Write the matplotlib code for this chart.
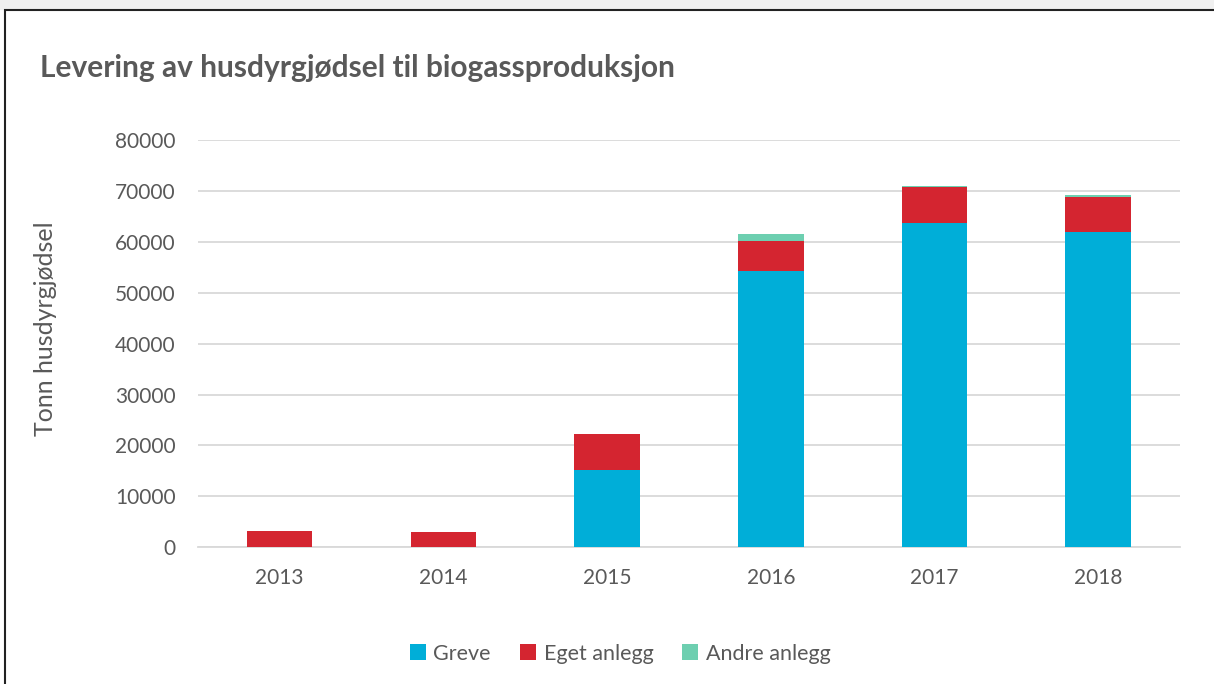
import matplotlib
matplotlib.use("Agg")
import matplotlib.pyplot as plt
import numpy as np
from matplotlib.patches import Rectangle

years = ["2013", "2014", "2015", "2016", "2017", "2018"]
greve = [0, 0, 15100, 54300, 63650, 61950]
eget = [3280, 3030, 7200, 5850, 7080, 6950]
andre = [0, 0, 0, 1500, 250, 300]
yticks = [0, 10000, 20000, 30000, 40000, 50000, 60000, 70000, 80000]

plt.rcParams['font.family'] = ['Lato', 'DejaVu Sans']
txt = "#595959"

fig = plt.figure(figsize=(12.14, 6.84), dpi=100)
ax = fig.add_axes([0.163, 0.2, 0.809, 0.595])

x = np.arange(len(years))
w = 0.4
ax.bar(x, greve, w, color="#00AED8", label="Greve", zorder=3)
ax.bar(x, eget, w, bottom=greve, color="#D42530", label="Eget anlegg", zorder=3)
bot2 = [g + e for g, e in zip(greve, eget)]
ax.bar(x, andre, w, bottom=bot2, color="#6DCFB0", label="Andre anlegg", zorder=3)

ax.set_xlim(-0.5, len(years) - 0.5)
ax.set_ylim(0, 80000)
ax.set_yticks(yticks)
ax.set_yticklabels([str(v) for v in yticks])
ax.set_xticks(x)
ax.set_xticklabels(years)
ax.yaxis.grid(True, color="#d9d9d9", linewidth=1.3, zorder=0)
for s in ["top", "right", "left"]:
    ax.spines[s].set_visible(False)
ax.spines["bottom"].set_color("#d9d9d9")
ax.spines["bottom"].set_linewidth(1.3)
ax.tick_params(axis="both", length=0, labelsize=15, colors=txt)
ax.tick_params(axis="y", pad=16)
ax.tick_params(axis="x", pad=15)
ax.set_ylabel("Tonn husdyrgjødsel", fontsize=18, color=txt)
ax.yaxis.set_label_coords(-0.143, 0.538)

fig.text(0.033, 0.9, "Levering av husdyrgjødsel til biogassproduksjon",
         fontsize=21.5, fontweight="bold", color=txt, va="center", ha="left")

ax.legend(loc="center", bbox_to_anchor=(0.43, -0.262),
          ncol=3, frameon=False, fontsize=15.5, handlelength=0.75, handleheight=0.75,
          columnspacing=1.35, handletextpad=0.35, labelcolor=txt)

fig.patches.append(Rectangle((5 / 1214, -0.1), 1.2, 1 - 10 / 684 + 0.1, transform=fig.transFigure,
                             fill=False, edgecolor="#222222", linewidth=1.5))
fig.patches.append(Rectangle((0, 1 - 9 / 684), 1, 9 / 684, transform=fig.transFigure,
                             color="#f0f0f0", zorder=-1))

fig.savefig("out.png", dpi=100)
